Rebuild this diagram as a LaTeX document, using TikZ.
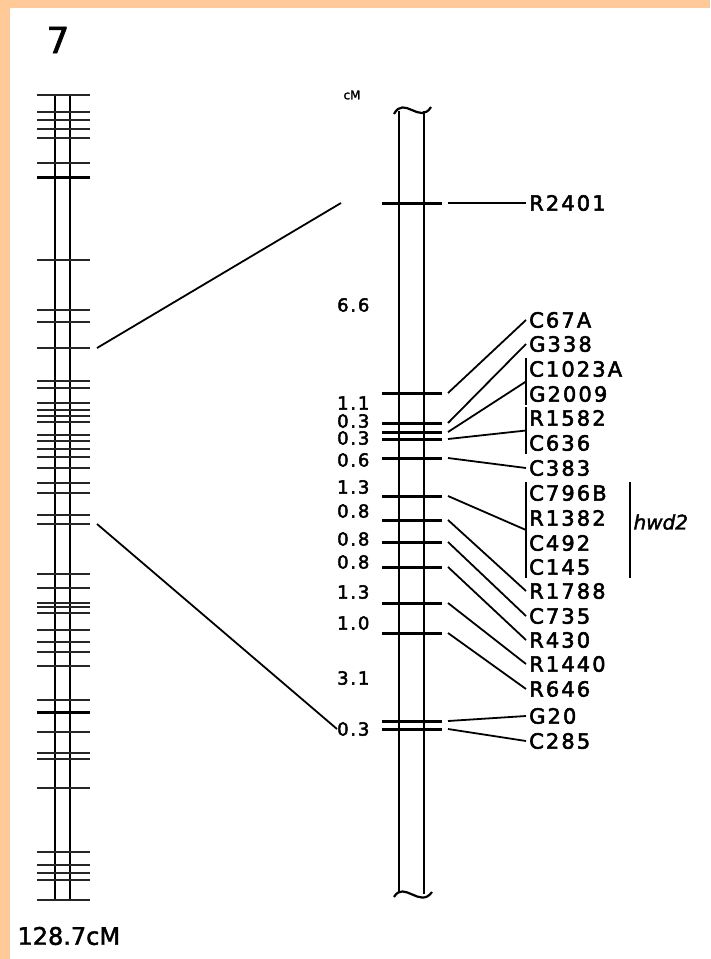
\documentclass[tikz,border=0pt]{standalone}
\usepackage{fontspec}
\setmainfont{DejaVu Sans}[FakeBold=2]
\newfontfamily\mkfont[LetterSpace=10,FakeBold=2.5]{DejaVu Sans}
\usepackage{xcolor}
\usetikzlibrary{calc}
\definecolor{peach}{RGB}{255,201,152}

\begin{document}
\begin{tikzpicture}[x=1pt,y=-1pt,
  band/.style={line width=3pt},
  lband/.style={line width=2.3pt,black!85},
  chrom/.style={line width=2.2pt},
  cn/.style={line width=1.8pt},
  mk/.style={anchor=west,inner sep=3pt,font=\mkfont\fontsize{21}{21}\selectfont},
  dist/.style={anchor=west,inner sep=0pt,font=\mkfont\fontsize{18}{18}\selectfont}]
\useasboundingbox (0,0) rectangle (710,959);
\fill[white] (0,0) rectangle (710,959);
\fill[peach] (0,0) rectangle (710,8);
\fill[peach] (0,0) rectangle (10,959);
% whole chromosome 7
\node[font=\fontsize{36}{36}\selectfont] (chr) at (58,40) {7};
\draw[chrom] (55,95) -- (55,900) (70,95) -- (70,900);
\foreach \y in {95,112,120,129,138,163,260,310,322,348,381,388,403,410,416,422,435,441,449,457,468,483,493,515,524,574,588,603,607,613,630,642,652,666,700,732,753,759,788,852,865,873,880,900}
  \draw[lband] (37,\y) -- (90,\y);
\draw[band] (37,177) -- (90,177) (37,712) -- (90,712);
\node[anchor=west,font=\fontsize{24}{24}\selectfont] (len) at (14,936) {128.7cM};
\coordinate (lu) at (97,348);
\coordinate (ll) at (97,524);
\coordinate (ru) at (341,203);
% enlarged region
\node[font=\fontsize{12}{12}\selectfont] (unit) at (352,95) {cM};
\draw[chrom] (399,111) -- (399,893) (424,111) -- (424,894);
\draw[chrom] (394,114) .. controls (404,95) and (420,125) .. (431,107);
\draw[chrom] (394,897) .. controls (404,880) and (420,909) .. (432,892);
\foreach \y [count=\i] in {203,393,423,432,439,458,496,520,542,567,603,633,721,729} {
  \draw[band] (382,\y) -- (442,\y);
  \coordinate (r\i) at (448,\y);
}
\foreach \t/\y [count=\i] in {6.6/305,1.1/403,0.3/421,0.3/438,0.6/460,1.3/487,0.8/511,0.8/539,0.8/562,1.3/592,1.0/623,3.1/678,0.3/729}
  \node[dist] (d\i) at (337,\y) {\t};
\foreach \m/\y in {R2401/203,C67A/320,G338/344,C1023A/369,G2009/394,R1582/418,C636/443,C383/468,C796B/493,R1382/518,C492/543,C145/567,R1788/591,C735/616,R430/640,R1440/664,R646/689,G20/716,C285/741}
  \node[mk] (\m) at (526,\y) {\m};
\foreach \b/\m in {1/R2401,2/C67A,3/G338,6/C383,8/R1788,9/C735,10/R430,11/R1440,12/R646,13/G20,14/C285}
  \draw[cn] (r\b) -- (\m.west);
\draw[cn] (C1023A.north west) -- (G2009.south west);
\draw[cn] (R1582.north west) -- (C636.south west);
\draw[cn] (C796B.north west) -- (C145.south west);
\draw[cn] (r4) -- ($(C1023A.west)!0.5!(G2009.west)$);
\draw[cn] (r5) -- ($(R1582.west)!0.5!(C636.west)$);
\draw[cn] (r7) -- ($(C796B.west)!0.5!(C145.west)$);
\node[anchor=west,font=\itshape\fontsize{20}{20}\selectfont] (hwd) at (630,522) {hwd2};
\draw[cn] (hwd.west |- C796B.north) -- (hwd.west |- C145.south);
% zoom lines
\draw[cn] (lu) -- (ru);
\draw[cn] (ll) -- (d13.west);
\end{tikzpicture}
\end{document}
